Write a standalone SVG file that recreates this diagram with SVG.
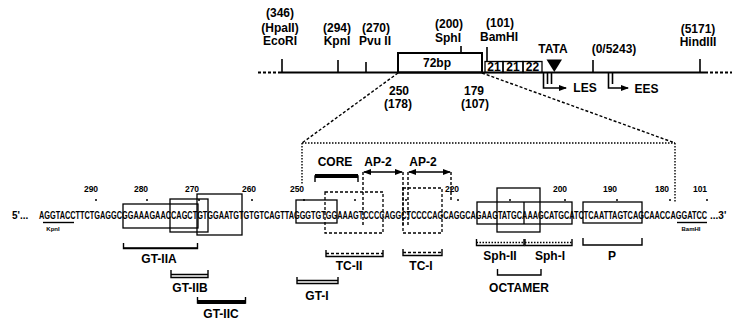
<svg xmlns="http://www.w3.org/2000/svg" width="732" height="322" viewBox="0 0 732 322">
<defs>
<style>
text { font-family: "Liberation Sans", Arial, Helvetica, sans-serif; font-weight: bold; fill: #000; }
.t { font-size: 12px; text-anchor: middle; }
.n { font-size: 8.5px; text-anchor: middle; }
.seq { font-size: 10px; }
.sm { font-size: 6px; text-anchor: middle; }
.ln { stroke: #000; stroke-width: 2; fill: none; }
.tk { stroke: #000; stroke-width: 1.6; fill: none; }
.bx { stroke: #000; stroke-width: 1.3; fill: none; }
.dbx { stroke: #000; stroke-width: 1.3; fill: none; stroke-dasharray: 3 2; }
.dl { stroke: #000; stroke-width: 1.4; fill: none; stroke-dasharray: 3 2; }
.dt { stroke: #000; stroke-width: 1.4; fill: none; stroke-dasharray: 1.5 1.5; }
.br { stroke: #000; stroke-width: 1.4; fill: none; }
.thick { stroke: #000; stroke-width: 4; fill: none; }
.dot { fill: #000; }
</style>
<marker id="ah" viewBox="0 0 8 6" refX="7" refY="3" markerWidth="8" markerHeight="6" orient="auto-start-reverse" markerUnits="userSpaceOnUse">
<path d="M0 0 L8 3 L0 6 Z" fill="#000"/>
</marker>
</defs>

<!-- Top restriction map -->
<g id="map">
<line x1="258" y1="72.5" x2="278" y2="72.5" class="ln" stroke-dasharray="3 2"/>
<line x1="278" y1="72.5" x2="705" y2="72.5" class="ln"/>
<line x1="705" y1="72.5" x2="732" y2="72.5" class="ln" stroke-dasharray="3 2"/>
</g>
<g id="site-EcoRI">
<line x1="282" y1="59" x2="282" y2="72" class="tk"/>
<text x="280" y="17" class="t">(346)</text>
<text x="280" y="31.5" class="t">(HpaII)</text>
<text x="280" y="45" class="t">EcoRI</text>
</g>
<g id="site-KpnI">
<line x1="338" y1="60" x2="338" y2="72" class="tk"/>
<text x="337" y="31.5" class="t">(294)</text>
<text x="337" y="45" class="t">KpnI</text>
</g>
<g id="site-PvuII">
<line x1="366" y1="62" x2="366" y2="72" class="tk"/>
<text x="376" y="31.5" class="t">(270)</text>
<text x="375" y="45" class="t">Pvu II</text>
</g>
<g id="box-72bp">
<rect x="398" y="53" width="84" height="19.5" class="ln" fill="#fff"/>
<text x="437" y="67" class="t">72bp</text>
<line x1="461" y1="46" x2="461" y2="53" class="tk"/>
<text x="449" y="27.5" class="t">(200)</text>
<text x="448" y="41.5" class="t">SphI</text>
<text x="399" y="95" class="t">250</text>
<text x="398" y="108" class="t">(178)</text>
<text x="474" y="95" class="t">179</text>
<text x="475" y="108" class="t">(107)</text>
</g>
<g id="site-BamHI">
<line x1="487" y1="47" x2="487" y2="61" class="tk"/>
<text x="500" y="27" class="t">(101)</text>
<text x="499" y="41" class="t">BamHI</text>
</g>
<g id="repeats-21-21-22">
<rect x="485" y="61.5" width="18" height="11" class="bx" stroke-width="1.6"/>
<rect x="503" y="61.5" width="20" height="11" class="bx" stroke-width="1.6"/>
<rect x="523" y="61.5" width="19" height="11" class="bx" stroke-width="1.6"/>
<text x="494" y="71" class="t" font-size="11">21</text>
<text x="513" y="71" class="t" font-size="11">21</text>
<text x="532.5" y="71" class="t" font-size="11">22</text>
</g>
<g id="tata">
<text x="553" y="53" class="t">TATA</text>
<path d="M546.5 59.5 L562 59.5 L554.3 72 Z" fill="#000"/>
</g>
<g id="site-origin">
<line x1="593" y1="60" x2="593" y2="72" class="tk"/>
<text x="614" y="53" class="t">(0/5243)</text>
</g>
<g id="site-HindIII">
<line x1="700" y1="59" x2="700" y2="72" class="tk"/>
<text x="698" y="33" class="t">(5171)</text>
<text x="698" y="46" class="t">HindIII</text>
</g>
<g id="LES">
<path d="M543.5 73 V88 H566" class="tk" marker-end="url(#ah)"/>
<line x1="547.5" y1="73" x2="547.5" y2="84" class="tk" stroke-width="1.2"/>
<line x1="551.5" y1="73" x2="551.5" y2="84" class="tk" stroke-width="1.2"/>
<text x="585" y="92" class="t">LES</text>
</g>
<g id="EES">
<path d="M608.5 73 V88 H628" class="tk" marker-end="url(#ah)"/>
<line x1="612.5" y1="73" x2="612.5" y2="84" class="tk" stroke-width="1.2"/>
<text x="646.5" y="93" class="t">EES</text>
</g>

<!-- Connectors (expansion lines) -->
<g id="connectors">
<line x1="398" y1="73" x2="302" y2="143" class="dl"/>
<line x1="482" y1="73" x2="675" y2="143" class="dl"/>
<line x1="302" y1="143" x2="675" y2="143" class="dt"/>
<line x1="302" y1="143" x2="302" y2="184" class="dt"/>
<line x1="675" y1="143" x2="675" y2="202" class="dt"/>
</g>

<!-- Sequence numbering -->
<g id="numbering">
<text x="91" y="192" class="n">290</text>
<text x="141" y="192" class="n">280</text>
<text x="192" y="192" class="n">270</text>
<text x="249" y="192" class="n">260</text>
<text x="297" y="192" class="n">250</text>
<text x="452" y="192" class="n">220</text>
<text x="560" y="192" class="n">200</text>
<text x="610" y="192" class="n">190</text>
<text x="662" y="192" class="n">180</text>
<text x="700" y="192" class="n">101</text>
<circle cx="96" cy="200" r="1" class="dot"/>
<circle cx="147" cy="200" r="1" class="dot"/>
<circle cx="199" cy="200" r="1" class="dot"/>
<circle cx="252" cy="200" r="1" class="dot"/>
<circle cx="304" cy="200" r="1" class="dot"/>
<circle cx="355" cy="200" r="1" class="dot"/>
<circle cx="406" cy="200" r="1" class="dot"/>
<circle cx="458" cy="200" r="1" class="dot"/>
<circle cx="510" cy="200" r="1" class="dot"/>
<circle cx="565" cy="200" r="1" class="dot"/>
<circle cx="617" cy="200" r="1" class="dot"/>
<circle cx="670" cy="200" r="1" class="dot"/>
<circle cx="707" cy="200" r="1" class="dot"/>
</g>

<!-- Sequence -->
<g id="sequence">
<text x="12" y="219" class="seq">5'...</text>
<text transform="translate(39 219) scale(1 1.45)" x="0" y="0" font-size="7.28" textLength="668" lengthAdjust="spacingAndGlyphs">AGGTACCTTCTGAGGCGGAAAGAACCAGCTGTGGAATGTGTGTCAGTTAGGGTGTGGAAAGTCCCCAGGCTCCCCAGCAGGCAGAAGTATGCAAAGCATGCATCTCAATTAGTCAGCAACCAGGATCC</text>
<text x="710" y="219" class="seq">...3'</text>
<line x1="43" y1="222.5" x2="74" y2="222.5" class="br" stroke-width="1.2"/>
<text x="53" y="231" class="sm">KpnI</text>
<line x1="677" y1="222.5" x2="707" y2="222.5" class="br" stroke-width="1.2"/>
<text x="691" y="231" class="sm">BamHI</text>
</g>

<!-- Boxes on sequence -->
<g id="box-GT-IIA"><rect x="123" y="204" width="75" height="24" class="bx"/></g>
<g id="box-GT-IIB"><rect x="170" y="199" width="38" height="33" class="bx"/></g>
<g id="box-GT-IIC"><rect x="197" y="194" width="45" height="41" class="bx"/></g>
<g id="box-GT-I"><rect x="296" y="200" width="41" height="23" class="bx"/></g>
<g id="box-TC-II"><rect x="325" y="192" width="58" height="41" class="dbx"/></g>
<g id="box-TC-I"><rect x="403" y="188" width="39" height="45" class="dbx"/></g>
<g id="box-Sph">
<rect x="477" y="202" width="95" height="22" class="bx"/>
<line x1="524" y1="202" x2="524" y2="224" class="bx"/>
</g>
<g id="box-OCTAMER"><rect x="497" y="188" width="43" height="44" class="bx"/></g>
<g id="box-P"><rect x="583" y="202" width="59" height="21" class="bx"/></g>

<!-- Upper annotations -->
<g id="CORE">
<text x="335" y="166" class="t">CORE</text>
<path d="M315 182 V176 H358 V182" class="br"/>
<line x1="315" y1="176" x2="358" y2="176" class="thick"/>
</g>
<g id="AP-2-a">
<text x="378" y="166" class="t">AP-2</text>
<line x1="364" y1="172" x2="402" y2="172" class="br" marker-start="url(#ah)" marker-end="url(#ah)"/>
<line x1="363" y1="172" x2="363" y2="225" class="dl" stroke-width="1.2"/>
<line x1="403" y1="172" x2="403" y2="225" class="dl" stroke-width="1.2"/>
</g>
<g id="AP-2-b">
<text x="423" y="166" class="t">AP-2</text>
<line x1="409" y1="172" x2="450" y2="172" class="br" marker-start="url(#ah)" marker-end="url(#ah)"/>
<line x1="408" y1="172" x2="408" y2="225" class="dl" stroke-width="1.2"/>
<line x1="451" y1="172" x2="451" y2="202" class="dl" stroke-width="1.2"/>
</g>

<!-- Lower brackets and labels -->
<g id="GT-IIA">
<path d="M123.5 243 V248.5 H197.5 V243" class="br"/>
<line x1="123.5" y1="248" x2="197.5" y2="248" class="br" stroke-width="2.2"/>
<text x="159" y="263" class="t" font-size="12.5">GT-IIA</text>
</g>
<g id="GT-IIB">
<path d="M171 270 V277.5 H208 V270" class="br"/>
<line x1="171" y1="274.5" x2="208" y2="274.5" class="br" stroke-width="1"/>
<text x="190" y="292" class="t" font-size="12.5">GT-IIB</text>
</g>
<g id="GT-IIC">
<path d="M197.5 297 V303 H245.5 V297" class="br"/>
<line x1="197.5" y1="302" x2="245.5" y2="302" class="thick"/>
<text x="221" y="318" class="t" font-size="12.5">GT-IIC</text>
</g>
<g id="GT-I">
<path d="M297 277 V283.5 H338 V277" class="br"/>
<line x1="297" y1="280.5" x2="338" y2="280.5" class="br" stroke-width="1"/>
<text x="317" y="300" class="t" font-size="12.5">GT-I</text>
</g>
<g id="TC-II">
<path d="M326 250 V256.5 H383 V250" class="br"/>
<line x1="326" y1="253.5" x2="383" y2="253.5" class="dl" stroke-width="1"/>
<text x="349" y="270" class="t" font-size="12.5">TC-II</text>
</g>
<g id="TC-I">
<path d="M403 249 V255.5 H442 V249" class="br"/>
<line x1="403" y1="252.5" x2="442" y2="252.5" class="dl" stroke-width="1"/>
<text x="421" y="270" class="t" font-size="12.5">TC-I</text>
</g>
<g id="Sph-II">
<path d="M476.5 239 V245.5 H524 V239" class="br"/>
<line x1="476.5" y1="242.5" x2="524" y2="242.5" class="dt" stroke-width="1.2" stroke-dasharray="1 1"/>
<text x="500" y="260" class="t" font-size="12.5">Sph-II</text>
</g>
<g id="Sph-I">
<path d="M525 239 V245.5 H572 V239" class="br"/>
<line x1="525" y1="242.5" x2="572" y2="242.5" class="dt" stroke-width="1.2" stroke-dasharray="1 1"/>
<text x="550" y="260" class="t" font-size="12.5">Sph-I</text>
</g>
<g id="OCTAMER">
<path d="M497.5 269 V275 H541 V269" class="br"/>
<text x="519" y="292" class="t" font-size="12.5">OCTAMER</text>
</g>
<g id="P">
<path d="M583 238 V245 H642 V238" class="br"/>
<text x="612" y="260" class="t" font-size="12.5">P</text>
</g>
</svg>
